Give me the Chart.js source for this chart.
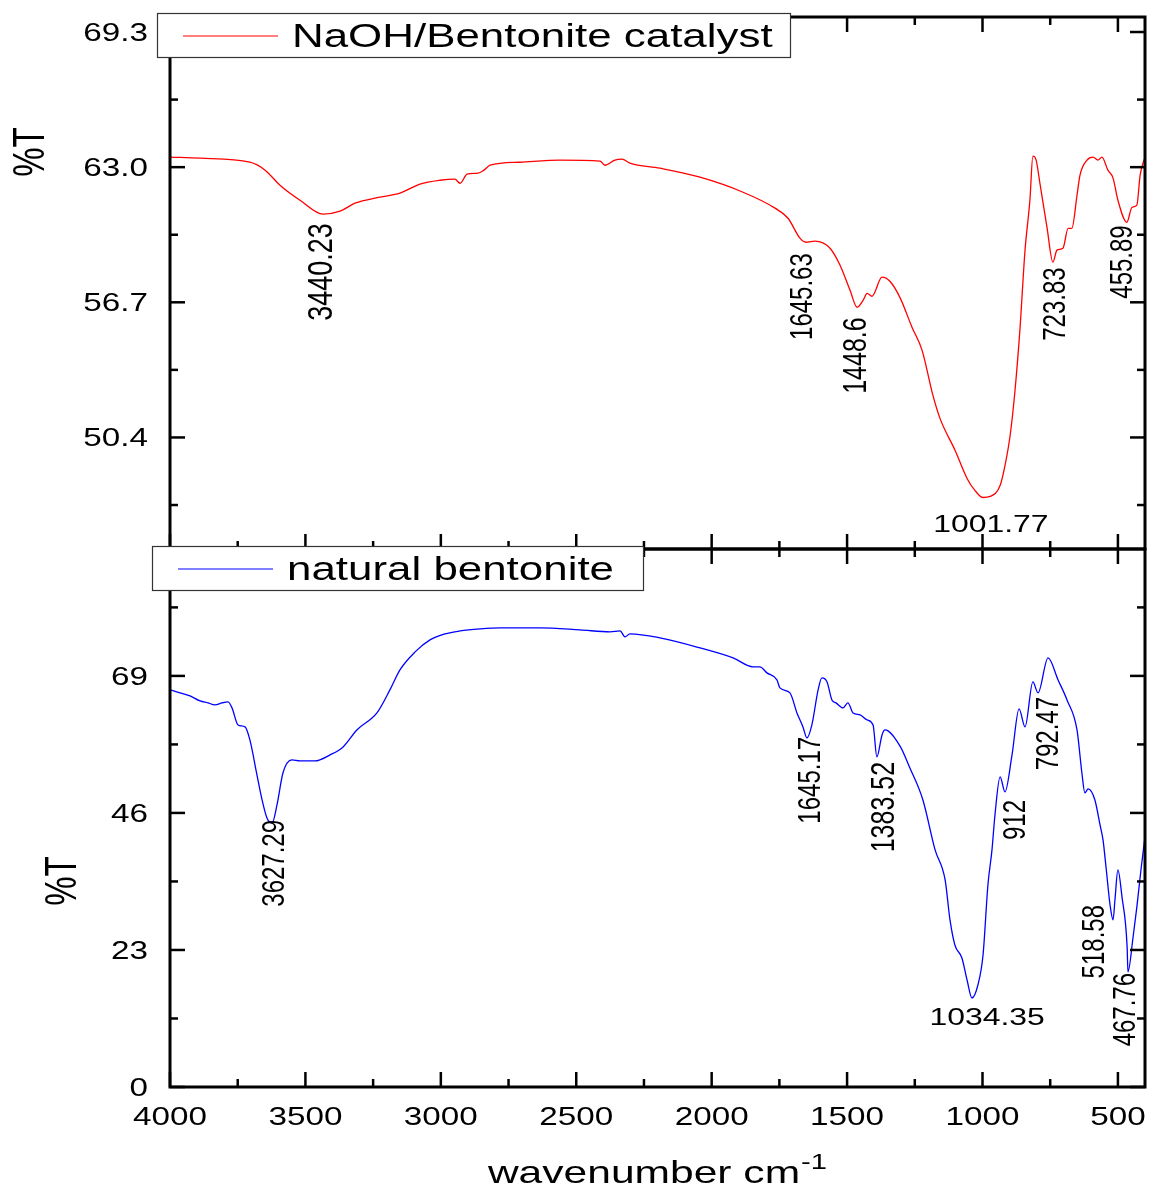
<!DOCTYPE html>
<html><head><meta charset="utf-8">
<script src="https://cdn.jsdelivr.net/npm/chart.js@4.4.1/dist/chart.umd.min.js"></script>
<style>
html,body{margin:0;padding:0;background:#fff;}
#wrap{position:relative;width:1149px;height:1187px;overflow:hidden;background:#fff;}
canvas{position:absolute;left:0;}
</style>
</head><body>
<div id="wrap">
<canvas id="c1" width="1149" height="560" style="top:0;width:1149px;height:560px"></canvas>
<canvas id="c2" width="1149" height="647" style="top:540px;width:1149px;height:647px"></canvas>
</div>
<script>
// ---------- DATA ----------
const topLabel = 'NaOH/Bentonite catalyst';
const botLabel = 'natural bentonite';

const topWn = [4000,3889,3705,3649,3594,3520,3435,3372,3317,3225,
 3151,3077,3003,2948,2929,2903,2863,2841,2818,2708,
 2560,2412,2394,2357,2331,2302,2191,2043,1884,1766,
 1718,1674,1652,1619,1563,1526,1489,1463,1441,1426,
 1408,1371,1342,1305,1260,1223,1183,1157,1101,1057,
 1028,998,972,935,917,898,880,862,843,825,
 814,802,788,762,740,725,703,684,670,651,
 640,614,592,574,559,537,518,500,467,448,
 430,418,400];
const topT = [63.47,63.42,63.23,62.86,62.16,61.46,60.81,60.95,61.32,61.6,
 61.79,62.21,62.39,62.44,62.25,62.67,62.72,62.86,63.09,63.23,
 63.33,63.28,63.09,63.33,63.37,63.19,62.95,62.53,61.83,61.09,
 60.62,59.69,59.5,59.55,59.22,58.43,57.26,56.47,56.79,57.12,
 56.98,57.87,57.68,56.93,55.53,54.46,52.36,51.29,49.79,48.49,
 47.93,47.6,47.65,48.16,49.09,50.49,52.59,55.39,59.13,61.46,
 63.51,63.33,62.25,60.2,58.57,59.13,59.22,60.15,60.15,61.69,
 62.63,63.33,63.47,63.33,63.47,62.86,62.49,61.46,60.43,61.13,
 61.23,62.63,63.47];

const botWn = [4000,3926,3889,3860,3834,3808,3786,3771,3749,3723,
 3705,3679,3660,3642,3623,3605,3583,3550,3520,3465,
 3409,3361,3310,3236,3188,3151,3095,3040,2985,2929,
 2855,2782,2634,2486,2375,2338,2320,2302,2191,2043,
 1921,1847,1822,1796,1759,1748,1711,1685,1663,1648,
 1630,1607,1593,1574,1556,1541,1515,1497,1478,1452,
 1426,1404,1390,1371,1360,1305,1268,1220,1175,1138,
 1120,1102,1076,1057,1039,1017,998,980,965,954,
 935,917,891,865,843,814,795,758,721,688,
 651,633,622,610,585,566,555,544,529,518,
 511,500,485,466,463,444,430,415,400];
const botT = [66.65,65.64,64.80,64.47,64.13,64.47,64.63,63.63,60.77,60.44,
 58.25,52.38,48.18,45.16,44.32,47.34,52.71,54.90,54.73,54.73,
 55.74,57.08,59.93,62.79,66.65,70.01,73.03,75.04,76.05,76.55,
 76.89,77.06,77.06,76.72,76.39,76.55,75.55,76.05,75.38,73.70,
 72.02,70.51,70.51,69.51,68.33,66.99,66.15,62.79,60.44,58.59,
 60.77,66.65,68.66,67.99,64.97,64.47,63.63,64.47,62.79,62.45,
 61.61,60.77,55.40,59.09,59.93,57.25,53.55,48.18,39.79,34.75,
 28.04,23.84,21.66,17.96,14.94,17.12,22.16,33.91,39.79,45.66,
 52.04,49.52,55.74,63.46,60.44,67.99,66.15,72.02,68.33,64.97,
 59.93,52.71,49.36,50.03,48.18,43.98,41.47,36.93,30.55,28.04,
 31.39,36.43,31.9,23.5,19.31,25.18,30.22,36.43,41.97];

// tick values
const xMajor = [4000,3500,3000,2500,2000,1500,1000,500];
const xMinor = [3750,3250,2750,2250,1750,1250,750];
const xTickLabels = ['4000','3500','3000','2500','2000','1500','1000','500'];
const topYMajor = [50.4,56.7,63.0,69.3];
const topYMinor = [47.25,53.55,59.85,66.15];
const topYLabels = ['50.4','56.7','63.0','69.3'];
const botYMajor = [0,23,46,69];
const botYMinor = [11.5,34.5,57.5,80.5];
const botYLabels = ['0','23','46','69'];

// peak annotations (anchor in data units)
const topPeakText = ['3440.23','1645.63','1448.6','1001.77','723.83','455.89'];
const topPeakWn   = [3450,1670,1474,969,736,489];
const topPeakT    = [60.39,58.99,56.0,45.97,58.33,60.29];
const topPeakRot  = [true,true,true,false,true,true];
const topPeakSize = [27,24,25,24,24,24];
const botPeakText = ['3627.29','1645.17','1383.52','1034.35','912','792.47','518.58','467.76'];
const botPeakWn   = [3620,1644,1371,983,884,762,592,478];
const botPeakT    = [44.82,58.76,54.56,10.41,48.18,65.47,30.55,19.14];
const botPeakRot  = [true,true,true,false,true,true,true,true];
const botPeakSize = [24,24,25,24,24,24,24,24];

// ---------- DRAWING ----------
const SX = 1.33;
const FONT = '"Liberation Sans", Arial, Helvetica, sans-serif';
function drawText(ctx, s, x, y, size, align, rot) {
  ctx.save();
  ctx.font = size + 'px ' + FONT;
  ctx.fillStyle = '#000';
  ctx.textBaseline = 'alphabetic';
  ctx.translate(x, y);
  ctx.scale(SX, 1);
  if (rot) { ctx.rotate(-Math.PI / 2); ctx.textAlign = align; ctx.fillText(s, 0, 0.716 * size / 2); }
  else { ctx.textAlign = align; ctx.fillText(s, 0, 0); }
  ctx.restore();
}

function makePlugin(cfg) {
  return {
    id: 'panel',
    afterDraw(chart) {
      const ctx = chart.ctx, a = chart.chartArea, xs = chart.scales.x, ys = chart.scales.y;
      const MAJ = 15, MIN = 8;
      ctx.save();
      ctx.strokeStyle = '#000';
      ctx.lineCap = 'butt';
      const tk = (x1, y1, x2, y2) => { ctx.beginPath(); ctx.moveTo(x1, y1); ctx.lineTo(x2, y2); ctx.stroke(); };
      ctx.lineWidth = 2.5;
      xMajor.forEach(v => { const p = xs.getPixelForValue(v); tk(p, a.top, p, a.top + MAJ); tk(p, a.bottom, p, a.bottom - MAJ); });
      xMinor.forEach(v => { const p = xs.getPixelForValue(v); tk(p, a.top, p, a.top + MIN); tk(p, a.bottom, p, a.bottom - MIN); });
      cfg.yMajor.forEach(v => { const p = ys.getPixelForValue(v); tk(a.left, p, a.left + MAJ, p); tk(a.right, p, a.right - MAJ, p); });
      cfg.yMinor.forEach(v => { const p = ys.getPixelForValue(v); tk(a.left, p, a.left + MIN, p); tk(a.right, p, a.right - MIN, p); });
      ctx.lineWidth = 3;
      ctx.strokeRect(a.left, a.top, a.right - a.left, a.bottom - a.top);
      ctx.restore();

      // y tick labels
      cfg.yMajor.forEach((v, i) => drawText(ctx, cfg.yLabels[i], a.left - 22, ys.getPixelForValue(v) + 9, 25, 'right', false));
      // x tick labels
      if (cfg.xLabels) {
        xMajor.forEach((v, i) => drawText(ctx, xTickLabels[i], xs.getPixelForValue(v), a.bottom + 38, 25, 'center', false));
        ctx.save();
        ctx.font = '32px ' + FONT;
        const w1 = ctx.measureText('wavenumber cm').width * SX;
        ctx.font = '22px ' + FONT;
        const w2 = ctx.measureText('-1').width * SX;
        ctx.restore();
        const cx = a.left + 487, x0 = cx - (w1 + w2) / 2, by = a.bottom + 96;
        drawText(ctx, 'wavenumber cm', x0, by, 32, 'left', false);
        drawText(ctx, '-1', x0 + w1 + 1, by - 14, 22, 'left', false);
      }
      // y title
      drawText(ctx, '%T', a.left + cfg.yTitleDx, a.top + cfg.yTitleDy, 33, 'center', true);

      // peak labels
      cfg.pText.forEach((s, i) => {
        const px = xs.getPixelForValue(cfg.pWn[i]), py = ys.getPixelForValue(cfg.pT[i]);
        drawText(ctx, s, px, py, cfg.pSize[i], cfg.pRot[i] ? 'right' : 'center', cfg.pRot[i]);
      });

      // legend
      const ds = chart.data.datasets[0];
      const L = cfg.legend;
      const bx = a.left + L.dx, by2 = a.top + L.dy;
      ctx.save();
      ctx.fillStyle = '#fff';
      ctx.fillRect(bx, by2, L.w, L.h);
      ctx.strokeStyle = '#333';
      ctx.lineWidth = 1.2;
      ctx.strokeRect(bx + 0.5, by2 + 0.5, L.w, L.h);
      ctx.strokeStyle = ds.borderColor;
      ctx.lineWidth = 1.2;
      const ly = by2 + L.h / 2 + 1;
      tk(bx + 26, ly, bx + 121, ly);
      ctx.restore();
      drawText(ctx, ds.label, bx + 135, by2 + L.h / 2 + 12, 33, 'left', false);
    }
  };
}

function makeChart(id, label, color, wn, t, yMin, yMax, pad, cfg) {
  return new Chart(document.getElementById(id), {
    type: 'line',
    data: { datasets: [{
      label: label,
      data: wn.map((x, i) => ({ x: x, y: t[i] })),
      borderColor: color,
      borderWidth: 1.3,
      pointRadius: 0,
      cubicInterpolationMode: 'monotone',
      fill: false
    }] },
    options: {
      responsive: false,
      animation: false,
      events: [],
      layout: { padding: pad },
      scales: {
        x: { type: 'linear', min: 400, max: 4000, reverse: true, display: false },
        y: { type: 'linear', min: yMin, max: yMax, display: false }
      },
      plugins: { legend: { display: false }, tooltip: { enabled: false } }
    },
    plugins: [makePlugin(cfg)]
  });
}

makeChart('c1', topLabel, '#ff0000', topWn, topT, 45.2, 70.0,
  { left: 170, right: 4, top: 17, bottom: 11 },
  { yMajor: topYMajor, yMinor: topYMinor, yLabels: topYLabels, xLabels: false,
    yTitleDx: -142, yTitleDy: 135,
    pText: topPeakText, pWn: topPeakWn, pT: topPeakT, pRot: topPeakRot, pSize: topPeakSize,
    legend: { dx: -13, dy: -4, w: 633, h: 44 } });

makeChart('c2', botLabel, '#0000ff', botWn, botT, 0, 90.3,
  { left: 170, right: 4, top: 9, bottom: 100 },
  { yMajor: botYMajor, yMinor: botYMinor, yLabels: botYLabels, xLabels: true,
    yTitleDx: -110, yTitleDy: 332,
    pText: botPeakText, pWn: botPeakWn, pT: botPeakT, pRot: botPeakRot, pSize: botPeakSize,
    legend: { dx: -18, dy: -3, w: 491, h: 44 } });
</script>
</body></html>
